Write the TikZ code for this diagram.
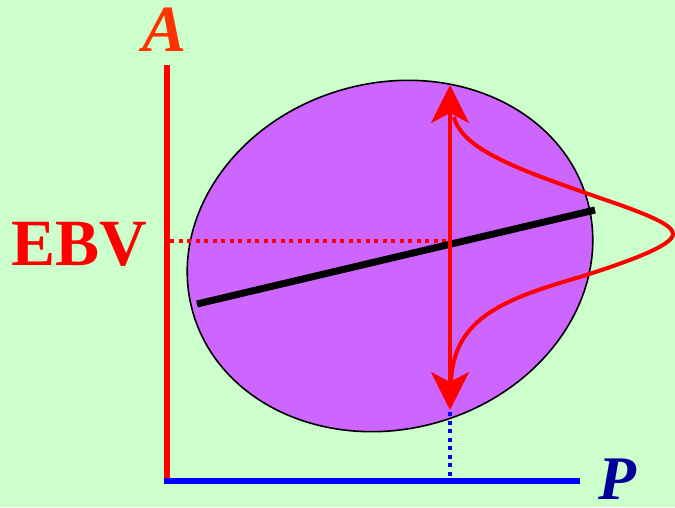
\documentclass[tikz,border=0pt]{standalone}
\usepackage{fontspec}
\setmainfont{Liberation Serif}
\usetikzlibrary{arrows.meta}
\definecolor{bg}{HTML}{CCFFCC}
\definecolor{blob}{HTML}{CC66FF}
\definecolor{ared}{HTML}{FF0000}
\definecolor{aorange}{HTML}{FF3300}
\definecolor{ablue}{HTML}{0000FF}
\definecolor{pblue}{HTML}{000099}
\tikzset{
  axisline/.style={line width=6.5pt},
  redarrow/.style={ared, line width=4pt, {Stealth[length=38pt,width=38pt,inset=10pt]}-{Stealth[length=38pt,width=38pt,inset=10pt]}},
  dotline/.style={line width=4pt, dash pattern=on 4pt off 4.5pt},
  lbl/.style={inner sep=0pt, anchor=base, text depth=0pt},
}
\begin{document}
\begin{tikzpicture}[x=1pt,y=-1pt]
\fill[bg] (0,0) rectangle (675,507);
\useasboundingbox (0,0) rectangle (675,507);
% ellipse
\draw[fill=blob, line width=1.6pt, rotate around={16:(390,256)}] (390,256) ellipse [x radius=205, y radius=173];
% coordinates
\coordinate (axtop) at (167,65);
\coordinate (origin) at (167,481);
\coordinate (axright) at (580,481);
\coordinate (ebvl) at (170,241);
\coordinate (mid) at (450,241);
\coordinate (tip1) at (450,85);
\coordinate (tip2) at (450,410);
\coordinate (pbot) at (450,480);
\coordinate (pbtop) at (450,412);
\coordinate (regL) at (197,304);
\coordinate (regR) at (595,210);
% dotted lines
\draw[dotline, ared] (ebvl) -- (mid);
\draw[dotline, ablue] (pbtop) -- (pbot);
% regression line
\draw[line width=7pt] (regL) -- (regR);
% double arrow
\draw[redarrow] (tip2) -- (tip1);
% sideways normal curve
\draw[ared, line width=4pt] (454,117) .. controls (462,150) and (520,170) .. (600,198)
  .. controls (650,215) and (673,225) .. (673,234)
  .. controls (673,244) and (640,258) .. (580,277)
  .. controls (500,300) and (452,320) .. (451,385);
% axes
\draw[axisline, ared] (axtop) -- (167,484);
\draw[axisline, ablue] (164,481) -- (axright);
% labels
\node[lbl, text=aorange, font=\fontsize{66}{66}\selectfont\bfseries\itshape] (A) at (165,51) {A};
\node[lbl, text=ared, font=\fontsize{66}{66}\selectfont\bfseries, anchor=base west] (EBV) at (11,265) {EBV};
\node[lbl, text=pblue, font=\fontsize{62}{62}\selectfont\bfseries\itshape, anchor=base west] (P) at (598,499) {P};
\end{tikzpicture}
\end{document}
